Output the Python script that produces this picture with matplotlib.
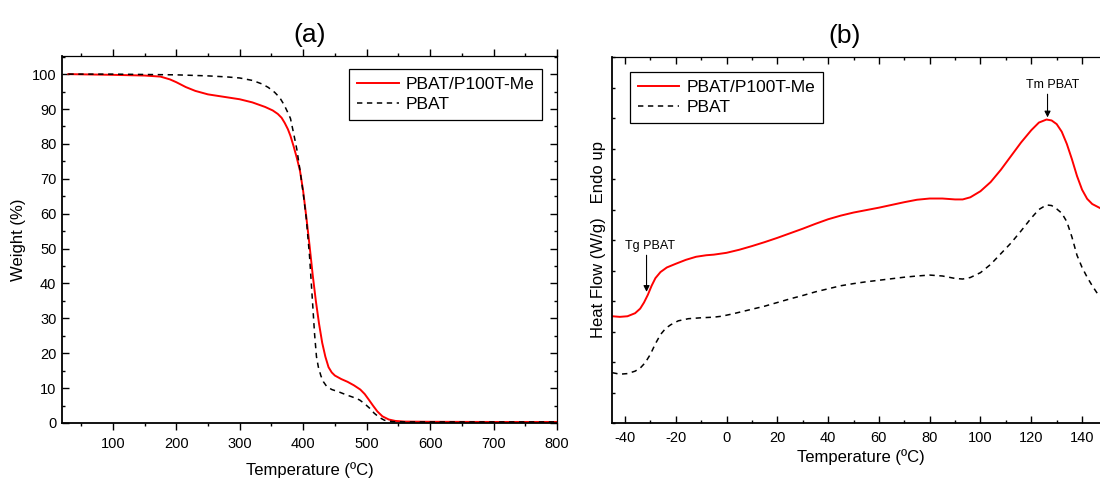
import numpy as np
import matplotlib
matplotlib.use('Agg')
from matplotlib import pyplot as plt
from matplotlib.ticker import MultipleLocator

plt.rcParams['font.family'] = ['Liberation Sans', 'DejaVu Sans']
plt.rcParams['axes.unicode_minus'] = False

# TGA data: temperature (ºC) vs remaining weight (%)
tga_temp_blend = [30, 100, 150, 175, 190, 200, 215, 230, 250, 275, 300, 320, 340, 352, 360, 366,
                  371, 376, 380, 385, 390, 395, 400, 405, 410, 415, 420, 425, 430, 435, 440,
                  445, 450, 460, 470, 480, 490, 497, 503, 510, 517, 525, 535, 545, 560,
                  600, 700, 800]
tga_weight_blend = [100, 99.8, 99.6, 99.3, 98.5, 97.7, 96.3, 95.2, 94.2, 93.5, 92.8, 91.9, 90.6,
                    89.6, 88.6, 87.5, 86.0, 84.2, 82.3, 79.3, 76, 72.3, 66.5, 59, 51, 42.5, 35,
                    28.5, 23, 19, 16, 14.5, 13.6, 12.6, 11.8, 10.8, 9.6, 8.3, 6.8, 5.0, 3.3,
                    1.9, 1.0, 0.6, 0.4, 0.35, 0.3, 0.3]

tga_temp_pbat = [30, 100, 150, 200, 250, 280, 300, 320, 335, 345, 355, 363, 370, 375, 380, 385,
                 390, 395, 400, 405, 410, 415, 418, 421, 424, 428, 432, 437, 445, 455, 469,
                 480, 489, 497, 505, 512, 520, 528, 540, 560, 800]
tga_weight_pbat = [100, 100, 99.9, 99.8, 99.5, 99.2, 98.9, 98.2, 97.2, 96.2, 94.8, 93.3, 91.2,
                   89.3, 87.3, 83, 78.5, 72.5, 66, 58.5, 48, 34, 25.5, 19, 16, 13.5, 11.8,
                   10.5, 9.6, 9.0, 8.0, 7.3, 6.6, 5.5, 4.2, 2.8, 1.6, 0.8, 0.4, 0.3, 0.3]

# DSC data: temperature (ºC) vs heat flow (arbitrary offset units)
dsc_temp_blend = [-45, -42, -39, -36, -34, -32.5, -31, -29.5, -28, -26, -23.5, -20, -16, -12,
                  -8, -5, 0, 5, 10, 15, 20, 25, 30, 35, 40, 45, 50, 55, 60, 65, 70, 75, 80,
                  85, 90, 93, 96, 100, 104, 108, 112, 116, 120, 123, 126, 128, 130, 132,
                  134, 136, 138, 140, 142, 144, 147]
dsc_flow_blend = [3.5, 3.48, 3.5, 3.6, 3.75, 3.95, 4.2, 4.5, 4.75, 4.95, 5.1, 5.22, 5.35, 5.45,
                  5.5, 5.52, 5.58, 5.68, 5.8, 5.93, 6.07, 6.22, 6.37, 6.53, 6.68, 6.8, 6.9,
                  6.98, 7.06, 7.15, 7.24, 7.32, 7.36, 7.36, 7.33, 7.33, 7.4, 7.6, 7.9, 8.3,
                  8.75, 9.2, 9.6, 9.85, 9.95, 9.92, 9.8, 9.55, 9.15, 8.65, 8.1, 7.65, 7.35,
                  7.18, 7.05]

dsc_temp_pbat = [-45, -42, -39, -36, -34, -32, -30, -28, -26, -24, -22, -19, -15, -10, -5, -2,
                 2, 6, 10, 15, 20, 25, 30, 35, 40, 45, 50, 55, 60, 65, 70, 75, 80, 85, 90,
                 93, 96, 100, 104, 108, 112, 116, 120, 123, 126, 128, 130, 132, 134, 136,
                 138, 140, 142, 144, 146, 147]
dsc_flow_pbat = [1.65, 1.6, 1.62, 1.7, 1.8, 1.98, 2.25, 2.6, 2.9, 3.1, 3.22, 3.35, 3.42, 3.45,
                 3.47, 3.5, 3.57, 3.65, 3.73, 3.83, 3.95, 4.07, 4.18, 4.3, 4.4, 4.5, 4.57,
                 4.63, 4.68, 4.73, 4.78, 4.82, 4.85, 4.82, 4.74, 4.72, 4.77, 4.93, 5.2, 5.55,
                 5.9, 6.3, 6.72, 7.0, 7.15, 7.13, 7.02, 6.88, 6.6, 6.1, 5.5, 5.1, 4.78, 4.5,
                 4.25, 4.15]

labels = ['PBAT/P100T-Me', 'PBAT']

# transition markers (temperature, heat flow at arrow tip)
tg_point = (-31.5, 4.3)
tm_point = (126.4, 10.02)

legend_opts = dict(borderaxespad=0, fontsize=12.5, fancybox=False, edgecolor='black',
                   framealpha=1, handlelength=2.4, handletextpad=0.4, labelspacing=0.3,
                   borderpad=0.45)

fig = plt.figure(figsize=(11, 4.79), dpi=100)

# ---------- (a) TGA ----------
ax1 = fig.add_axes([62 / 1100, 1 - 423 / 479, 495 / 1100, 367 / 479])
ax1.plot(tga_temp_blend, tga_weight_blend, color='red', lw=1.4, label=labels[0])
ax1.plot(tga_temp_pbat, tga_weight_pbat, color='black', lw=1.1, dashes=(3.5, 3), label=labels[1])
ax1.set_xlim(20, 800)
ax1.set_ylim(0, 105.2)
ax1.xaxis.set_minor_locator(MultipleLocator(50))
ax1.yaxis.set_minor_locator(MultipleLocator(5))
ax1.set_yticks(np.arange(0, 101, 10))
ax1.set_xticks(np.arange(100, 801, 100))
ax1.tick_params(axis='x', which='both', direction='out', top=True, labelsize=10.5, pad=5)
ax1.tick_params(axis='y', which='both', direction='in', right=True, labelsize=10.5, pad=4)
ax1.tick_params(which='major', length=5, width=1)
ax1.tick_params(which='minor', length=2.5, width=1)
for side in ['left', 'bottom']:
    ax1.spines[side].set_linewidth(1.3)
for side in ['top', 'right']:
    ax1.spines[side].set_linewidth(0.9)
ax1.set_xlabel('Temperature (ºC)', fontsize=12, labelpad=8)
ax1.set_ylabel('Weight (%)', fontsize=12, labelpad=4)
ax1.set_title('(a)', fontsize=19, pad=10)
leg1 = ax1.legend(loc='upper right', bbox_to_anchor=(0.97, 0.965), **legend_opts)
leg1.get_frame().set_linewidth(0.9)

# ---------- (b) DSC ----------
ax2 = fig.add_axes([612 / 1100, 1 - 423 / 479, 498 / 1100, 366 / 479])
ax2.plot(dsc_temp_blend, dsc_flow_blend, color='red', lw=1.4, label=labels[0])
ax2.plot(dsc_temp_pbat, dsc_flow_pbat, color='black', lw=1.1, dashes=(3.5, 3), label=labels[1])
ax2.set_xlim(-45.1, 151)
ax2.set_ylim(0, 12)
ax2.xaxis.set_major_locator(MultipleLocator(20))
ax2.xaxis.set_minor_locator(MultipleLocator(10))
ax2.yaxis.set_major_locator(MultipleLocator(1))
ax2.tick_params(axis='x', which='both', direction='in', top=True, labelsize=10.5, pad=6)
ax2.tick_params(axis='x', which='major', length=5, width=1)
ax2.tick_params(axis='x', which='minor', length=2.5, width=1)
ax2.tick_params(axis='y', which='both', direction='in', length=2.5, width=1, labelleft=False)
for side in ['left', 'bottom']:
    ax2.spines[side].set_linewidth(1.3)
ax2.spines['top'].set_linewidth(0.9)
ax2.set_xlabel('Temperature (ºC)', fontsize=12, labelpad=3)
ax2.set_ylabel('Heat Flow (W/g)   Endo up', fontsize=12, labelpad=4)
ax2.set_title('(b)', fontsize=19, pad=10, x=(845 - 612) / 498)

ax2.annotate('', xy=tg_point, xytext=(tg_point[0], 5.5),
             arrowprops=dict(arrowstyle='-|>', color='black', lw=0.8, mutation_scale=9,
                             shrinkA=0, shrinkB=0))
ax2.text(tg_point[0] + 1.2, 5.62, 'Tg PBAT', fontsize=9, ha='center', va='bottom')
ax2.annotate('', xy=tm_point, xytext=(tm_point[0], 10.78),
             arrowprops=dict(arrowstyle='-|>', color='black', lw=0.8, mutation_scale=9,
                             shrinkA=0, shrinkB=0))
ax2.text(tm_point[0] + 2.0, 10.9, 'Tm PBAT', fontsize=9, ha='center', va='bottom')

leg2 = ax2.legend(loc='upper left', bbox_to_anchor=(0.036, 0.959), **legend_opts)
leg2.get_frame().set_linewidth(0.9)

fig.savefig('out.png', dpi=100)
